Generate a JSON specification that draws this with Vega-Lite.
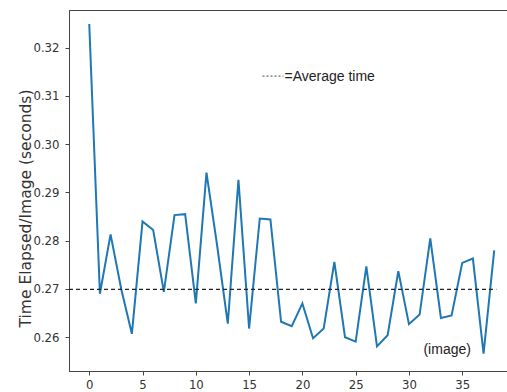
{
  "$schema": "https://vega.github.io/schema/vega-lite/v6.json",
  "autosize": {"type": "none"},
  "padding": {"left": 69, "top": 10, "right": 0, "bottom": 21},
  "width": 438,
  "height": 361,
  "background": "white",
  "config": {
    "view": {"stroke": "#444", "strokeWidth": 1},
    "font": "DejaVu Sans Condensed"
  },
  "datasets": {
    "times": [
      {"image": 0, "t": 0.3249}, {"image": 1, "t": 0.2690}, {"image": 2, "t": 0.2813},
      {"image": 3, "t": 0.2700}, {"image": 4, "t": 0.2607}, {"image": 5, "t": 0.2840},
      {"image": 6, "t": 0.2822}, {"image": 7, "t": 0.2694}, {"image": 8, "t": 0.2853},
      {"image": 9, "t": 0.2855}, {"image": 10, "t": 0.2670}, {"image": 11, "t": 0.2941},
      {"image": 12, "t": 0.2790}, {"image": 13, "t": 0.2628}, {"image": 14, "t": 0.2926},
      {"image": 15, "t": 0.2618}, {"image": 16, "t": 0.2846}, {"image": 17, "t": 0.2844},
      {"image": 18, "t": 0.2632}, {"image": 19, "t": 0.2623}, {"image": 20, "t": 0.2670},
      {"image": 21, "t": 0.2598}, {"image": 22, "t": 0.2618}, {"image": 23, "t": 0.2756},
      {"image": 24, "t": 0.2600}, {"image": 25, "t": 0.2591}, {"image": 26, "t": 0.2747},
      {"image": 27, "t": 0.2581}, {"image": 28, "t": 0.2604}, {"image": 29, "t": 0.2737},
      {"image": 30, "t": 0.2627}, {"image": 31, "t": 0.2647}, {"image": 32, "t": 0.2805},
      {"image": 33, "t": 0.2640}, {"image": 34, "t": 0.2645}, {"image": 35, "t": 0.2754},
      {"image": 36, "t": 0.2763}, {"image": 37, "t": 0.2566}, {"image": 38, "t": 0.2780}
    ],
    "avg": [{"x1": -1.9, "x2": 38.2, "y": 0.2699}],
    "legendline": [{"x1": 16.26, "x2": 18.22, "y": 0.3141}],
    "labels": [
      {"x": 18.32, "y": 0.3139, "label": "=Average time"},
      {"x": 31.36, "y": 0.2573, "label": "(image)"}
    ]
  },
  "layer": [
    {
      "data": {"name": "times"},
      "mark": {"type": "line", "color": "#1f77b4", "strokeWidth": 2},
      "encoding": {
        "x": {
          "field": "image", "type": "quantitative",
          "scale": {"domain": [-1.9, 39.2], "nice": false, "zero": false},
          "axis": {
            "title": null, "values": [0, 5, 10, 15, 20, 25, 30, 35], "grid": false,
            "domainColor": "#444", "tickColor": "#444", "tickSize": 4,
            "labelFontSize": 13, "labelColor": "#333", "labelPadding": 3,
            "labelFont": "DejaVu Sans Condensed"
          }
        },
        "y": {
          "field": "t", "type": "quantitative",
          "scale": {"domain": [0.2530, 0.3278], "nice": false, "zero": false},
          "axis": {
            "title": "Time Elapsed/Image (seconds)", "values": [0.26, 0.27, 0.28, 0.29, 0.30, 0.31, 0.32],
            "format": ".2f", "grid": false,
            "domainColor": "#444", "tickColor": "#444", "tickSize": 4,
            "labelFontSize": 13, "labelColor": "#333", "labelPadding": 6,
            "labelFont": "DejaVu Sans Condensed",
            "titleFont": "DejaVu Sans", "titleFontSize": 15.5, "titleFontWeight": "normal",
            "titleColor": "#333", "titleAngle": -90, "titleX": -44, "titleY": 198,
            "titleAlign": "center", "titleBaseline": "middle"
          }
        }
      }
    },
    {
      "data": {"name": "avg"},
      "mark": {"type": "rule", "color": "#222", "strokeWidth": 1.3, "strokeDash": [4, 3]},
      "encoding": {
        "x": {"field": "x1", "type": "quantitative"},
        "x2": {"field": "x2"},
        "y": {"field": "y", "type": "quantitative"}
      }
    },
    {
      "data": {"name": "legendline"},
      "mark": {"type": "rule", "color": "#444", "strokeWidth": 1, "strokeDash": [2, 2]},
      "encoding": {
        "x": {"field": "x1", "type": "quantitative"},
        "x2": {"field": "x2"},
        "y": {"field": "y", "type": "quantitative"}
      }
    },
    {
      "data": {"name": "labels"},
      "mark": {"type": "text", "align": "left", "baseline": "middle", "font": "Liberation Sans", "fontSize": 14, "color": "#222"},
      "encoding": {
        "x": {"field": "x", "type": "quantitative"},
        "y": {"field": "y", "type": "quantitative"},
        "text": {"field": "label"}
      }
    }
  ]
}
